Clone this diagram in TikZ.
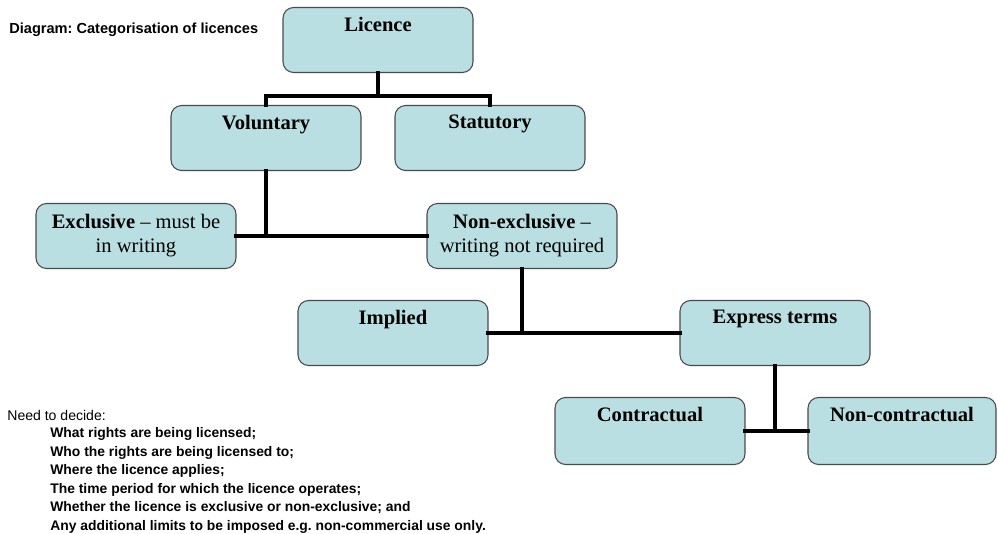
\documentclass[tikz,border=0pt]{standalone}
\usepackage{fontspec}
\setmainfont{Liberation Serif}
\setsansfont{Liberation Sans}
\usepackage{tikz}
\usetikzlibrary{positioning}
\frenchspacing

\definecolor{boxfill}{HTML}{B9DFE2}
\definecolor{boxline}{HTML}{4A4A4A}

\tikzset{
  licbox/.style = {draw = boxline, fill = boxfill, line width = 0.6pt, rounded corners = 6pt,
                   minimum width = 3.8cm, minimum height = 1.3cm, inner sep = 0pt},
  boxtext/.style = {font = \fontsize{11.7}{13.6}\selectfont, align = center, inner sep = 0pt},
  branch/.style = {line width = 2.3pt, line cap = rect},
  notetext/.style = {font = \sffamily\fontsize{8}{10}\selectfont, anchor = west, inner sep = 0pt}
}

\begin{document}
\begin{tikzpicture}[x = 0.02cm, y = -0.02cm]
            \useasboundingbox (0,0) rectangle (998,534);
            % boxes
            \node [licbox] (licence-box) at (378,40) {};
            \node [licbox] (voluntary-box) at (266,138) {};
            \node [licbox] (statutory-box) at (490,138) {};
            \node [licbox, minimum width = 4cm] (exclusive-box) at (136,236) {};
            \node [licbox] (nonexcl-box) at (522,236) {};
            \node [licbox] (implied-box) at (393,333) {};
            \node [licbox] (express-box) at (775,333) {};
            \node [licbox, minimum height = 1.34cm] (contract-box) at (650,431) {};
            \node [licbox, minimum width = 3.76cm, minimum height = 1.34cm] (noncontract-box) at (902,431) {};
            % box labels
            \node [boxtext, below = 0.2cm of licence-box.north] {\textbf{Licence}};
            \node [boxtext, below = 0.2cm of voluntary-box.north] {\textbf{Voluntary}};
            \node [boxtext, below = 0.2cm of statutory-box.north] {\textbf{Statutory}};
            \node [boxtext] at (exclusive-box) {\textbf{Exclusive} -- must be\\in writing};
            \node [boxtext] at (nonexcl-box) {\textbf{Non-exclusive} --\\writing not required};
            \node [boxtext, below = 0.2cm of implied-box.north] {\textbf{Implied}};
            \node [boxtext, below = 0.2cm of express-box.north] {\textbf{Express terms}};
            \node [boxtext, below = 0.2cm of contract-box.north] {\textbf{Contractual}};
            \node [boxtext, below = 0.2cm of noncontract-box.north] {\textbf{Non-contractual}};
            % connectors
            \draw [branch] (licence-box.south) -- ++(0,23) coordinate (licence-split);
            \draw [branch] (voluntary-box.north) |- (licence-split) -| (statutory-box.north);
            \draw [branch] (exclusive-box.east) -- (nonexcl-box.west);
            \draw [branch] (voluntary-box.south) -- (voluntary-box.south |- exclusive-box.east);
            \draw [branch] (implied-box.east) -- (express-box.west);
            \draw [branch] (nonexcl-box.south) -- (nonexcl-box.south |- implied-box.east);
            \draw [branch] (contract-box.east) -- (noncontract-box.west);
            \draw [branch] (express-box.south) -- (express-box.south |- contract-box.east);
            % notes
            \node [notetext, font = \sffamily\bfseries\fontsize{8.3}{10}\selectfont] (diagram-title) at (9,30) {Diagram: Categorisation of licences};
            \node [notetext] (decide-head) at (7,415) {Need to decide:};
            \node [notetext, font = \sffamily\bfseries\fontsize{7.9}{10.6}\selectfont, align = left, anchor = north west]
                  (decide-list) at (50,427) {What rights are being licensed;\\
                  Who the rights are being licensed to;\\
                  Where the licence applies;\\
                  The time period for which the licence operates;\\
                  Whether the licence is exclusive or non-exclusive; and\\
                  Any additional limits to be imposed e.g. non-commercial use only.};
\end{tikzpicture}
\end{document}
